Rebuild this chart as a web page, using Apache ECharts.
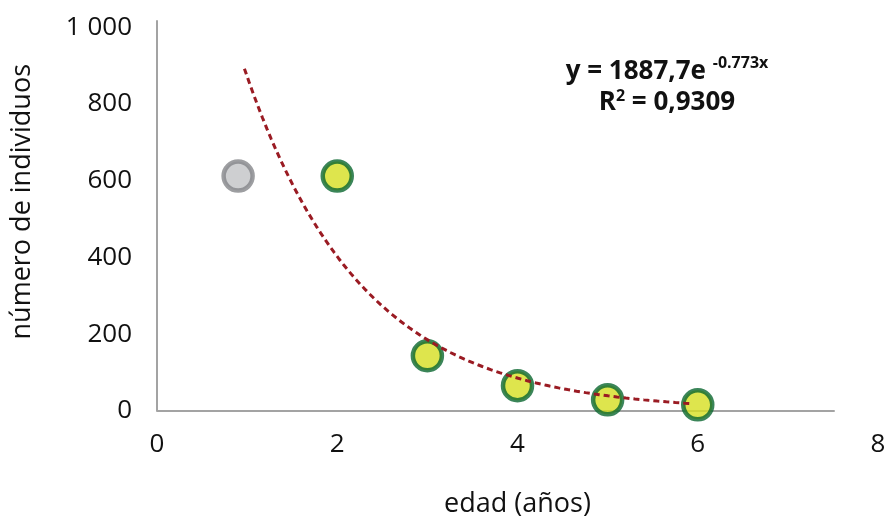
<!DOCTYPE html>
<html>
<head>
<meta charset="utf-8">
<script src="https://cdn.jsdelivr.net/npm/echarts@6/dist/echarts.min.js"></script>
<style>html,body{margin:0;padding:0;background:#fff}#c{width:891px;height:520px}</style>
</head>
<body>
<div id="c"></div>
<script>
// Edad (años) y número de individuos
const excludedPoint = [[0.9, 612]];
const ageYears = [2, 3, 4, 5, 6];
const individuals = [612, 144, 66, 29, 16];
// Ajuste exponencial: y = A·e^(k·x)
const fitA = 1887.7;
const fitK = -0.773;
const fitRange = [0.97, 5.95];
const xTicks = [0, 2, 4, 6, 8];
const yTicks = [0, 200, 400, 600, 800, 1000];
const yAxisTop = 1016;      // el eje vertical sobresale un poco por encima de 1 000
const xAxisLineEnd = 7.52;  // el eje horizontal termina antes de 8

const FONT = '"Open Sans", "Noto Sans", sans-serif';

const fitLine = [];
for (let i = 0; i <= 100; i++) {
  const x = fitRange[0] + (fitRange[1] - fitRange[0]) * i / 100;
  fitLine.push([x, fitA * Math.exp(fitK * x)]);
}

const chart = echarts.init(document.getElementById('c'));
chart.setOption({
  animation: false,
  grid: { left: 157, right: 13, top: 21, bottom: 109, containLabel: false, outerBoundsMode: 'none' },
  title: {
    left: 662, top: 51, textAlign: 'center',
    text: '{b|y = 1887,7e }{s|-0.773x}\n{b|R}{s2|2}{b| = 0,9309}',
    textStyle: {
      rich: {
        b: { fontFamily: FONT, fontWeight: 'bold', fontSize: 26, color: '#111', lineHeight: 31 },
        s: { fontFamily: FONT, fontWeight: 'bold', fontSize: 16, color: '#111', lineHeight: 31, padding: [0, 0, 17, 0] },
        s2: { fontFamily: FONT, fontWeight: 'bold', fontSize: 16, color: '#111', lineHeight: 31, padding: [0, 0, 12, 0] }
      }
    }
  },
  graphic: [{
    type: 'text', left: 9, top: 64, rotation: Math.PI / 2,
    style: { text: 'número de individuos', font: '27px ' + FONT, fill: '#111' }
  }],
  xAxis: {
    type: 'value', min: xTicks[0], max: xTicks[xTicks.length - 1], interval: 2,
    name: 'edad (años)', nameLocation: 'middle', nameGap: 80, nameMoveOverlap: false,
    nameTextStyle: { fontFamily: FONT, fontSize: 27, color: '#111' },
    axisLine: { show: false },
    axisTick: { show: false },
    splitLine: { show: false },
    axisLabel: { fontFamily: FONT, fontSize: 26, color: '#111', margin: 21 }
  },
  yAxis: {
    type: 'value', min: yTicks[0], max: yAxisTop, interval: 200,
    axisLine: { show: true, lineStyle: { color: '#a3a3a3', width: 2 } },
    axisTick: { show: false },
    splitLine: { show: false },
    axisLabel: {
      fontFamily: FONT, fontSize: 26, color: '#111', margin: 25, padding: [8, 0, 0, 0],
      formatter: v => yTicks.indexOf(v) < 0 ? '' :
        (v >= 1000 ? String(v).replace(/(\d)(?=(\d{3})+$)/g, '$1 ') : String(v))
    }
  },
  series: [
    {
      type: 'scatter', data: excludedPoint, symbolSize: 29, z: 3,
      itemStyle: { color: '#c2c3c5', borderColor: '#85868a', borderWidth: 4.5 }
    },
    {
      type: 'scatter', data: ageYears.map((a, i) => [a, individuals[i]]), symbolSize: 29, z: 3,
      itemStyle: { color: '#d6df20', borderColor: '#0a6630', borderWidth: 4.5 },
      // eje horizontal trazado sobre la escala de datos
      markLine: {
        symbol: 'none', silent: true, label: { show: false }, z: 1,
        lineStyle: { color: '#a3a3a3', width: 2, type: 'solid' },
        data: [
          [{ coord: [0, 0] }, { coord: [xAxisLineEnd, 0] }]
        ]
      }
    },
    {
      type: 'line', data: fitLine, showSymbol: false, smooth: false, z: 5,
      lineStyle: { color: '#9a1b23', width: 3, type: [6, 4] }
    }
  ]
});
</script>
</body>
</html>
